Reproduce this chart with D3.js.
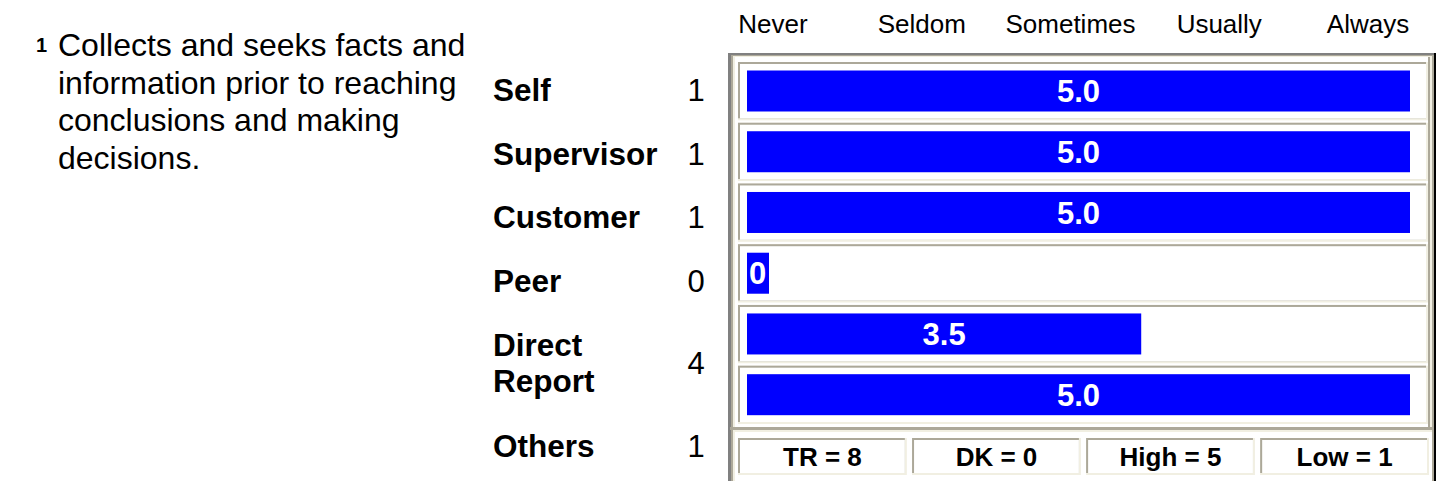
<!DOCTYPE html>
<html>
<head>
<meta charset="utf-8">
<script src="https://cdn.jsdelivr.net/npm/d3@7"></script>
<style>
  body { margin: 0; background: #fff; }
  svg { display: block; font-family: "Liberation Sans", Arial, sans-serif; }
</style>
</head>
<body>
<div id="chart"></div>
<script>
// item shown on the left
const itemNumber = "1";
const itemText = ["Collects and seeks facts and", "information prior to reaching", "conclusions and making", "decisions."];

// response scale along the top
const scaleTicks = ["Never", "Seldom", "Sometimes", "Usually", "Always"];

// rater groups, their counts and average scores
const raterGroups = ["Self", "Supervisor", "Customer", "Peer", "Direct Report", "Others"];
const raterLines = [["Self"], ["Supervisor"], ["Customer"], ["Peer"], ["Direct", "Report"], ["Others"]];
const raterCounts = [1, 1, 1, 0, 4, 1];
const scores = [5.0, 5.0, 5.0, 0, 3.5, 5.0];

// summary row
const footerItems = ["TR = 8", "DK = 0", "High = 5", "Low = 1"];

const svgWidth = 1437;
const svgHeight = 481;

const gray = "#aca899";
const cream = "#f1efe2";
const dark = "#808080";
const blue = "#0000ff";

const svg = d3.select("#chart")
    .append("svg")
    .attr("width", svgWidth)
    .attr("height", svgHeight);

// vertical centre -> baseline for a given font size
const baseline = (cy, fs) => cy + fs * 0.716 / 2;

// ---- item text ----
svg.append("text")
    .attr("x", 36)
    .attr("y", baseline(45, 20))
    .style("font-size", "20px")
    .style("font-weight", "bold")
    .text(itemNumber);

svg.append("g")
    .selectAll("text")
    .data(itemText)
    .join("text")
    .attr("x", 58)
    .attr("y", (d, i) => baseline(45 + i * 37.5, 32))
    .style("font-size", "32px")
    .text(d => d);

// ---- header ticks ----
const tickScale = d3.scalePoint()
    .domain(scaleTicks)
    .range([773, 1368]);

svg.append("g")
    .selectAll("text")
    .data(scaleTicks)
    .join("text")
    .attr("x", d => tickScale(d))
    .attr("y", 33)
    .attr("text-anchor", "middle")
    .style("font-size", "26px")
    .text(d => d);

// ---- rater labels (own row heights, like the left table) ----
const lineH = 36;
const rowBase = 25.5;
const rowLine = 38;
let acc = 58.25;
const labelRows = raterLines.map((lines, i) => {
    const h = rowBase + lines.length * rowLine;
    const row = { lines, count: raterCounts[i], top: acc, h };
    acc += h;
    return row;
});

const labelG = svg.append("g");
labelRows.forEach(r => {
    const cy = r.top + r.h / 2;
    const t = labelG.append("text")
        .style("font-size", "31.5px")
        .style("font-weight", "bold");
    r.lines.forEach((ln, j) => {
        t.append("tspan")
            .attr("x", 493)
            .attr("y", baseline(cy + (j - (r.lines.length - 1) / 2) * lineH, 31.5))
            .text(ln);
    });
    labelG.append("text")
        .attr("x", 696)
        .attr("y", baseline(cy, 31))
        .attr("text-anchor", "middle")
        .style("font-size", "31px")
        .text(r.count);
});

// ---- outer frame ----
const frame = svg.append("g");
frame.append("rect").attr("x", 728).attr("y", 53).attr("width", 3).attr("height", svgHeight - 53).attr("fill", dark);
frame.append("rect").attr("x", 731).attr("y", 55).attr("width", 2).attr("height", svgHeight - 55).attr("fill", gray);
frame.append("rect").attr("x", 733).attr("y", 56).attr("width", 2).attr("height", svgHeight - 56).attr("fill", cream);
frame.append("rect").attr("x", 728).attr("y", 53).attr("width", 708).attr("height", 2).attr("fill", dark);
frame.append("rect").attr("x", 731).attr("y", 55).attr("width", 703).attr("height", 1).attr("fill", gray);
frame.append("rect").attr("x", 733).attr("y", 56).attr("width", 698).attr("height", 1).attr("fill", cream);
frame.append("rect").attr("x", 1434).attr("y", 53).attr("width", 2).attr("height", svgHeight - 53).attr("fill", "#000");
frame.append("rect").attr("x", 1432).attr("y", 55).attr("width", 2).attr("height", svgHeight - 55).attr("fill", gray);
frame.append("rect").attr("x", 1430).attr("y", 56).attr("width", 2).attr("height", 371).attr("fill", cream);
frame.append("rect").attr("x", 1428).attr("y", 57).attr("width", 2).attr("height", 370).attr("fill", gray);

// ---- bar cells ----
const rowScale = d3.scaleBand()
    .domain(raterGroups)
    .range([62, 424])
    .paddingInner(0.04);

const xScale = d3.scaleLinear()
    .domain([1.3, 5])
    .range([747, 1410]);

const cellX0 = 738;
const cellX1 = 1428;

const data = raterGroups.map((g, i) => ({ group: g, score: scores[i] }));
const fmt = v => v === 0 ? "0" : d3.format(".1f")(v);

const cells = svg.append("g")
    .selectAll("g")
    .data(data)
    .join("g")
    .attr("transform", d => `translate(0,${rowScale(d.group)})`);

const bw = rowScale.bandwidth();
cells.append("rect").attr("x", cellX0).attr("y", 0).attr("width", cellX1 - cellX0).attr("height", bw).attr("fill", cream);
cells.append("rect").attr("x", cellX0).attr("y", 0).attr("width", cellX1 - cellX0 - 2).attr("height", bw - 2).attr("fill", gray);
cells.append("rect").attr("x", cellX0 + 2).attr("y", 2).attr("width", cellX1 - cellX0 - 4).attr("height", bw - 4).attr("fill", "#fff");

const barY = 8.5;
const barH = 41;
const valueSize = 31;

cells.append("rect")
    .attr("x", xScale.range()[0])
    .attr("y", barY)
    .attr("height", barH)
    .attr("width", d => Math.max(xScale(d.score) - xScale.range()[0], 22))
    .attr("fill", blue);

cells.append("text")
    .attr("x", d => d.score === 0 ? xScale.range()[0] + 2 : (xScale.range()[0] + xScale(d.score)) / 2)
    .attr("y", baseline(barY + barH / 2, valueSize))
    .attr("text-anchor", d => d.score === 0 ? "start" : "middle")
    .attr("fill", "#fff")
    .style("font-size", valueSize + "px")
    .style("font-weight", "bold")
    .text(d => fmt(d.score));

// ---- summary row ----
svg.append("rect").attr("x", 730).attr("y", 427).attr("width", 704).attr("height", 3).attr("fill", gray);
svg.append("rect").attr("x", 733).attr("y", 430).attr("width", 699).attr("height", 2).attr("fill", cream);

const footScale = d3.scaleBand()
    .domain(footerItems)
    .range([738, 1429])
    .paddingInner(0.03);

const foot = svg.append("g")
    .selectAll("g")
    .data(footerItems)
    .join("g")
    .attr("transform", d => `translate(${footScale(d)},438)`);

const fw = footScale.bandwidth();
const fh = 37;
foot.append("rect").attr("width", fw).attr("height", fh).attr("fill", cream);
foot.append("rect").attr("width", fw - 2).attr("height", fh - 2).attr("fill", gray);
foot.append("rect").attr("x", 2).attr("y", 2).attr("width", fw - 4).attr("height", fh - 4).attr("fill", "#fff");
foot.append("text")
    .attr("x", fw / 2)
    .attr("y", baseline(fh / 2, 26))
    .attr("text-anchor", "middle")
    .style("font-size", "26px")
    .style("font-weight", "bold")
    .text(d => d);
</script>
</body>
</html>
